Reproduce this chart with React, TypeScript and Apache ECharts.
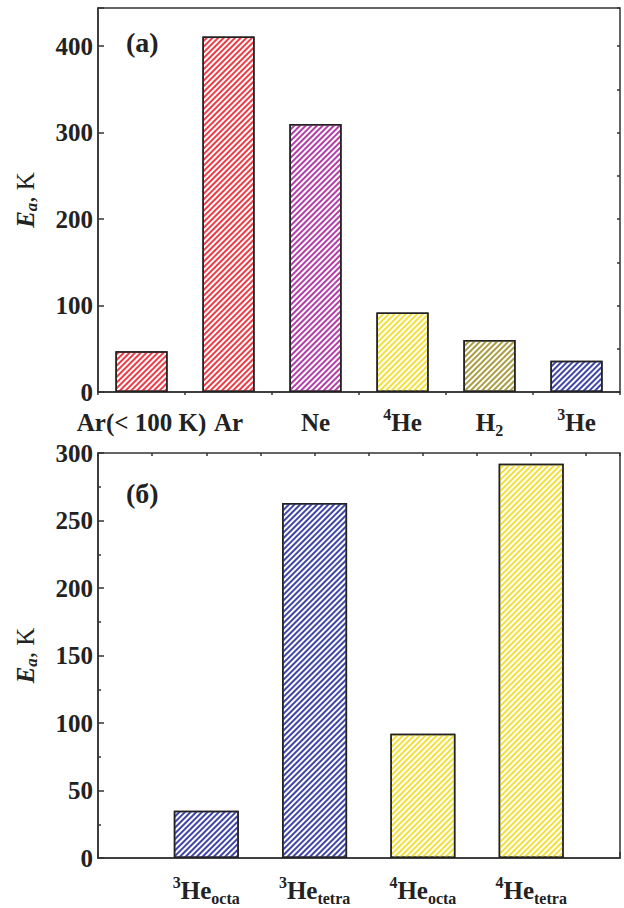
import React, { useEffect, useRef } from 'react';
import * as echarts from 'echarts';

// ---- data ----
const topCategories = ['Ar(< 100 K)', 'Ar', 'Ne', '^4He', 'H_2', '^3He'];
const topValues = [47, 411, 310, 92, 60, 36];
const topColors = ['#ee3b45', '#ee3b45', '#b23ea8', '#f2e03a', '#a99d45', '#3f46a6'];
const topYMax = 444;

const bottomCategories = ['^3He_octa', '^3He_tetra', '^4He_octa', '^4He_tetra'];
const bottomPositions = [1, 2, 3, 4];
const bottomValues = [35, 263, 92, 292];
const bottomColors = ['#3f46a6', '#3f46a6', '#f2e03a', '#f2e03a'];
const bottomXMax = 4.82;
const bottomYMax = 300;

const FONT = 'Liberation Serif';
const AX = '#333';

const toRich = (name: string) => {
  const m = name.match(/^(?:\^(\d))?([^_]*)(?:_(.+))?$/);
  if (!m) return name;
  let s = '';
  if (m[1]) s += `{sup|${m[1]}}`;
  s += `{m|${m[2]}}`;
  if (m[3]) s += `{sub|${m[3]}}`;
  return s;
};

const rich = {
  m: { fontSize: 25, fontWeight: 'bold', fontFamily: FONT, color: '#222', lineHeight: 32 },
  sup: { fontSize: 16, fontWeight: 'bold', fontFamily: FONT, color: '#222', lineHeight: 15, verticalAlign: 'top' },
  sub: { fontSize: 16, fontWeight: 'bold', fontFamily: FONT, color: '#222', lineHeight: 15, verticalAlign: 'bottom' },
};

const nameRich = {
  i: { fontSize: 25, fontStyle: 'italic', fontWeight: 'bold', fontFamily: FONT, color: '#222', lineHeight: 30 },
  is: { fontSize: 17, fontStyle: 'italic', fontWeight: 'bold', fontFamily: FONT, color: '#222', lineHeight: 14, verticalAlign: 'bottom' },
  n: { fontSize: 25, fontFamily: FONT, color: '#222', lineHeight: 30 },
};
const yName = '{i|E}{is|a}{n|, K}';

const decal = (color: string) => ({
  symbol: 'rect',
  symbolSize: 1,
  dashArrayX: [1, 0],
  dashArrayY: [1.6, 1.7],
  rotation: -Math.PI / 4,
  color,
});

const yLabel = { fontSize: 25, fontWeight: 'bold', fontFamily: FONT, color: '#222', margin: 5 };

export default function App() {
  const ref = useRef<HTMLDivElement>(null);
  useEffect(() => {
    if (!ref.current) return;
    const chart = echarts.init(ref.current, undefined, { renderer: 'svg' });
    const grids = [
      { left: 98, top: 8, width: 522, height: 384, show: true, borderColor: AX, borderWidth: 1.5, backgroundColor: 'transparent' },
      { left: 98, top: 453, width: 522, height: 405, show: true, borderColor: AX, borderWidth: 1.5, backgroundColor: 'transparent' },
    ];
    chart.setOption({
      animation: false,
      backgroundColor: '#fff',
      textStyle: { fontFamily: FONT },
      title: [
        { text: '(a)', left: 121, top: 23, textStyle: { fontSize: 28, fontWeight: 'bold', fontFamily: FONT, color: '#222' } },
        { text: '(б)', left: 121, top: 474, textStyle: { fontSize: 28, fontWeight: 'bold', fontFamily: FONT, color: '#222' } },
      ],
      grid: grids,
      xAxis: [
        {
          type: 'category', gridIndex: 0, data: topCategories, boundaryGap: true,
          axisLine: { show: true, lineStyle: { color: AX, width: 1.5 } },
          axisTick: { show: true, inside: true, alignWithLabel: true, interval: 0, length: 6, lineStyle: { color: AX, width: 1.5 } },
          axisLabel: { margin: 14, interval: 0, hideOverlap: false, formatter: (v: string) => toRich(v), rich },
          splitLine: { show: false },
        },
        {
          type: 'category', gridIndex: 0, data: topCategories, boundaryGap: true,
          axisLine: { show: false },
          axisTick: { show: true, inside: true, alignWithLabel: false, interval: 0, length: 3, lineStyle: { color: AX, width: 1.5 } },
          axisLabel: { show: false },
          splitLine: { show: false },
        },
        {
          type: 'value', gridIndex: 1, min: 0, max: bottomXMax, interval: 1,
          axisLine: { show: true, lineStyle: { color: AX, width: 1.5 } },
          axisTick: { show: true, inside: true, length: 6, lineStyle: { color: AX, width: 1.5 } },
          axisLabel: {
            margin: 16,
            formatter: (v: number) => {
              const idx = bottomPositions.indexOf(v);
              return idx >= 0 ? toRich(bottomCategories[idx]) : '';
            },
            rich,
          },
          splitLine: { show: false },
        },
        {
          type: 'value', gridIndex: 1, min: 0, max: bottomXMax, interval: 0.5,
          axisLine: { show: false },
          axisTick: { show: true, inside: true, length: 3, lineStyle: { color: AX, width: 1.5 } },
          axisLabel: { show: false },
          splitLine: { show: false },
        },
      ],
      yAxis: [
        {
          type: 'value', gridIndex: 0, min: 0, max: topYMax, interval: 100,
          name: yName, nameLocation: 'middle', nameGap: 58, nameRotate: 90,
          nameTextStyle: { rich: nameRich },
          axisLine: { show: true, lineStyle: { color: AX, width: 1.5 } },
          axisTick: { show: true, inside: true, length: 6, lineStyle: { color: AX, width: 1.5 } },
          axisLabel: { ...yLabel, formatter: (v: number) => (v % 100 === 0 ? String(v) : '') },
          splitLine: { show: false },
        },
        {
          type: 'value', gridIndex: 0, min: 0, max: topYMax, interval: 50,
          axisLine: { show: false },
          axisTick: { show: true, inside: true, length: 3, lineStyle: { color: AX, width: 1.5 } },
          axisLabel: { show: false },
          splitLine: { show: false },
        },
        {
          type: 'value', gridIndex: 1, min: 0, max: bottomYMax, interval: 50,
          name: yName, nameLocation: 'middle', nameGap: 58, nameRotate: 90,
          nameTextStyle: { rich: nameRich },
          axisLine: { show: true, lineStyle: { color: AX, width: 1.5 } },
          axisTick: { show: true, inside: true, length: 6, lineStyle: { color: AX, width: 1.5 } },
          minorTick: { show: true, splitNumber: 2, length: 3, lineStyle: { color: AX, width: 1.5 } },
          axisLabel: yLabel,
          splitLine: { show: false },
        },
      ],
      series: [
        {
          type: 'bar', xAxisIndex: 0, yAxisIndex: 0, barWidth: '60%',
          data: topValues.map((v, i) => ({
            value: v,
            itemStyle: { color: '#fff', borderColor: '#222', borderWidth: 1.5, decal: decal(topColors[i]) },
          })),
        },
        {
          type: 'bar', xAxisIndex: 2, yAxisIndex: 2, barWidth: 65,
          data: bottomValues.map((v, i) => ({
            value: [bottomPositions[i], v],
            itemStyle: { color: '#fff', borderColor: '#222', borderWidth: 1.5, decal: decal(bottomColors[i]) },
          })),
        },
      ],
    });
    return () => chart.dispose();
  }, []);
  return <div ref={ref} style={{ position: 'absolute', left: 0, top: 0, width: 624, height: 908 }} />;
}
